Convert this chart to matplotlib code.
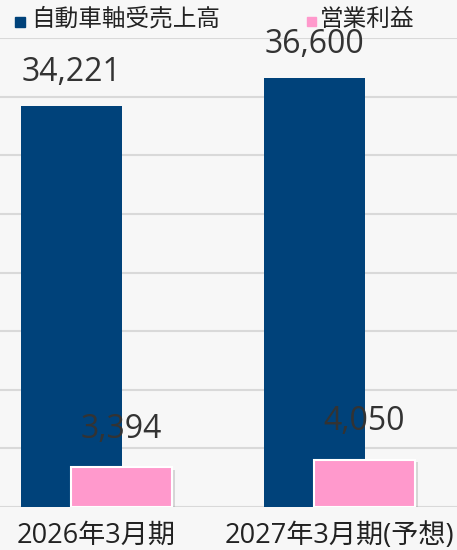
import numpy as np
import matplotlib.pyplot as plt
import matplotlib.patheffects as pe
from matplotlib.patches import Rectangle

plt.rcParams['font.family'] = ['Open Sans', 'Noto Sans CJK JP', 'DejaVu Sans']

categories = ['2026年3月期', '2027年3月期(予想)']
sales = [34221, 36600]
profit = [3394, 4050]
series_names = ['自動車軸受売上高', '営業利益']

blue = '#00427a'
pink = '#ff99cc'
bg = '#f7f7f7'

fig = plt.figure(figsize=(4.57, 5.50), dpi=100, facecolor=bg)
ax = fig.add_axes([0, 43/550, 1, 469/550], facecolor=bg)

x = np.arange(len(categories))
w = 0.415
off = 0.103

b1 = ax.bar(x - off, sales, w, color=blue, label=series_names[0], zorder=2)
b2 = ax.bar(x + off, profit, w, color=pink, edgecolor='white', linewidth=1.5,
            label=series_names[1], zorder=3,
            path_effects=[pe.SimplePatchShadow(offset=(2, -2), shadow_rgbFace='#999999', alpha=0.35),
                          pe.Normal()])

for r, v in zip(b1, sales):
    ax.text(r.get_x() + r.get_width()/2, v + 1450, f'{v:,}', ha='center', va='bottom',
            fontsize=23, color='#333333', weight='medium', zorder=4)
for r, v in zip(b2, profit):
    ax.text(r.get_x() + r.get_width()/2, v + 1800, f'{v:,}', ha='center', va='bottom',
            fontsize=23, color='#333333', weight='medium', zorder=4)

ax.set_ylim(0, 40000)
ax.set_xlim(-0.397, 1.484)
ax.set_yticks(np.arange(0, 40001, 5000))
ax.yaxis.grid(True, color='#d9d9d9', linewidth=1.5, zorder=0)
ax.set_axisbelow(True)
ax.tick_params(left=False, labelleft=False, bottom=False, pad=7)
ax.set_xticks(x)
ax.set_xticklabels(categories, fontsize=19.5, color='#222222')
for s in ax.spines.values():
    s.set_visible(False)

# legend at top
W, H = 457, 550
fig.patches.append(Rectangle((15/W, 1 - 27/H), 10/W, 10/H, color=blue,
                             transform=fig.transFigure))
fig.text(31/W, 1 - 20/H, series_names[0], fontsize=17, color='#222222', va='center', ha='left')
fig.patches.append(Rectangle((307/W, 1 - 26/H), 9/W, 9/H, color=pink,
                             transform=fig.transFigure))
fig.text(320/W, 1 - 20/H, series_names[1], fontsize=17, color='#222222', va='center', ha='left')

fig.savefig('out.png', dpi=100, facecolor=bg)
